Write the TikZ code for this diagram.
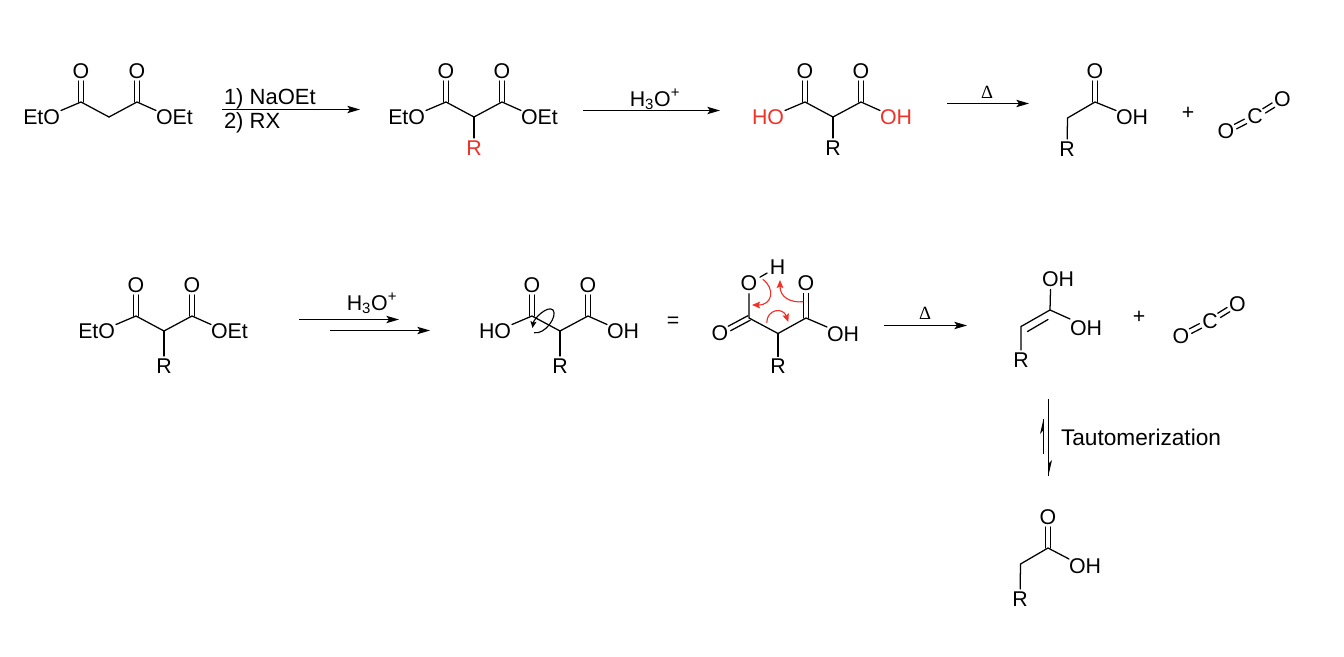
\documentclass[tikz,border=0pt]{standalone}
\usepackage{fontspec}
\setmainfont{Liberation Sans}
\newfontfamily\deltafont{Liberation Serif}
\usetikzlibrary{arrows.meta,calc}
\definecolor{chemred}{RGB}{240,50,40}
\tikzset{
  lab/.style={inner sep=0pt,outer sep=0pt,font=\fontsize{16}{18}\selectfont},
  atom/.style={lab,outer sep=2pt},
  bond/.style={line width=.95pt,line cap=round},
  rxn/.style={line width=.95pt,-{Stealth[length=9.5pt,width=5.5pt,inset=2pt]}},
  curly/.style={line width=.85pt,chemred,-{Stealth[length=6pt,width=5pt,inset=1pt]}},
  barb/.style={fill=black,draw=none}
}
% double bond between two named points
\newcommand{\dbl}[3][]{%
  \draw[bond,#1] ($(#2)!1.9pt!90:(#3)$) -- ($(#3)!1.9pt!-90:(#2)$);
  \draw[bond,#1] ($(#2)!1.9pt!-90:(#3)$) -- ($(#3)!1.9pt!90:(#2)$);}
% malonate skeleton: prefix, x, y, left text, right text, label colour
\newcommand{\diester}[6]{%
  \begin{scope}[shift={(#2,#3)},name prefix=#1-]
    \coordinate (ch) at (0,0);
    \coordinate (c1) at (-28,-15);
    \coordinate (c2) at (28,-15);
    \node[atom] (o1) at (-28,-46) {O};
    \node[atom] (o2) at (28,-46) {O};
    \node[lab,anchor=east,text=#6] (l) at (-49,0.5) {#4};
    \node[lab,anchor=west,text=#6] (r) at (47,0.5) {#5};
    \draw[bond] (ch) -- (c1) -- ([shift={(1,-7)}]l.east);
    \draw[bond] (ch) -- (c2) -- ([shift={(0,-7)}]r.west);
    \dbl[shorten >=7.5pt]{c1}{o1.center}
    \dbl[shorten >=7.5pt]{c2}{o2.center}
  \end{scope}}
% R-CH2-COOH: prefix, x, y of the carboxyl carbon, R offset, OH offset
\newcommand{\acid}[5]{%
  \begin{scope}[shift={(#2,#3)},name prefix=#1-]
    \coordinate (c) at (0,0);
    \coordinate (ch) at (-27.5,16);
    \node[atom] (o) at (0,-31) {O};
    \node[lab,anchor=west] (oh) at (21,#5) {OH};
    \node[atom] (r) at (-28,#4) {R};
    \draw[bond] (r) -- (ch) -- (c) -- ([shift={(0,-7)}]oh.west);
    \dbl[shorten >=7.5pt]{c}{o.center}
  \end{scope}}
% O=C=O: prefix, x, y of the carbon
\newcommand{\carbondioxide}[3]{%
  \begin{scope}[shift={(#2,#3)},name prefix=#1-]
    \node[lab] (c) at (0,0) {C};
    \node[lab] (a) at (-29,15) {O};
    \node[lab] (b) at (27.5,-17) {O};
    \dbl[shorten >=8pt,shorten <=8pt]{c.center}{a.center}
    \dbl[shorten >=8pt,shorten <=8pt]{c.center}{b.center}
  \end{scope}}
\begin{document}
\begin{tikzpicture}[x=.75pt,y=-.75pt]
\useasboundingbox (0,0) rectangle (1344,656);
\fill[white] (0,0) rectangle (1344,656);

% ---- top row ----
\diester{m1}{109}{117}{EtO}{OEt}{black}

\coordinate (a1s) at (222,109.5);
\coordinate (a1e) at (360,109.5);
\draw[rxn] (a1s) -- (a1e);
\node[lab,font=\fontsize{16.5}{18}\selectfont,anchor=west] (a1t) at (224,99) {1) NaOEt};
\node[lab,font=\fontsize{16.5}{18}\selectfont,anchor=west] (a1b) at (224,123) {2) RX};

\diester{m2}{474}{117}{EtO}{OEt}{black}
\node[atom,text=chemred] (m2-R) at (474,148) {R};
\draw[bond] (m2-ch) -- (m2-R);

\coordinate (a2s) at (583,110.5);
\coordinate (a2e) at (720,110.5);
\draw[rxn] (a2s) -- (a2e);
\node[lab] (a2t) at (655,99.5) {H\textsubscript{3}O\textsuperscript{+}};

\diester{m3}{833}{117}{HO}{OH}{chemred}
\node[atom] (m3-R) at (833,148) {R};
\draw[bond] (m3-ch) -- (m3-R);

\coordinate (a3s) at (947,103.5);
\coordinate (a3e) at (1029,103.5);
\draw[rxn] (a3s) -- (a3e);
\node[lab,font=\deltafont\fontsize{14}{16}\selectfont] (a3t) at (987,92) {Δ};

\acid{m4}{1095}{102}{47}{15.5}
\node[lab] (plus1) at (1188,113) {+};
\carbondioxide{co1}{1255}{116.5}

% ---- second row ----
\diester{m5}{164}{331}{EtO}{OEt}{black}
\node[atom] (m5-R) at (164,366) {R};
\draw[bond] (m5-ch) -- (m5-R);

\coordinate (a4s) at (299,319.5);
\coordinate (a4e) at (399,319.5);
\draw[rxn] (a4s) -- (a4e);
\coordinate (a5s) at (330,330.5);
\coordinate (a5e) at (430,330.5);
\draw[rxn] (a5s) -- (a5e);
\node[lab] (a4t) at (372,303.5) {H\textsubscript{3}O\textsuperscript{+}};

\diester{m6}{560}{331}{HO}{OH}{black}
\node[atom] (m6-R) at (560,366) {R};
\draw[bond] (m6-ch) -- (m6-R);
\draw[line width=.85pt,-{Stealth[length=5pt,width=4.5pt,inset=1pt]}]
  (534,332.7) .. controls (545,335) and (558,316) .. (553,310)
  .. controls (548,305) and (534,318) .. (532.5,328);

\node[lab] (eq) at (673,322) {=};

% cyclic conformer
\coordinate (c1) at (749,318);
\coordinate (ch) at (778,333.5);
\coordinate (c2) at (806,318);
\node[atom] (ol) at (720,333.5) {O};
\node[atom] (oa) at (749,283.5) {O};
\node[atom] (ha) at (777.5,267) {H};
\node[atom] (ot) at (806,283.5) {O};
\node[lab,anchor=west] (oh) at (827,334) {OH};
\node[atom] (rc) at (778,366.5) {R};
\draw[bond] (oa) -- (ha);
\draw[bond] (oa) -- (c1) -- (ch) -- (c2) -- ([shift={(0,-7)}]oh.west);
\draw[bond] (ch) -- (rc);
\dbl[shorten >=8pt]{c1}{ol.center}
\dbl[shorten >=7.5pt]{c2}{ot.center}
\draw[curly] (762.7,279.3) .. controls (775,288) and (773,305) .. (752,305);
\draw[curly] (766.7,322.7) .. controls (767,309) and (783,307) .. (788.3,322);
\draw[curly] (803.3,301.7) .. controls (790,303) and (780,297) .. (780,280);

\coordinate (a6s) at (884,325.5);
\coordinate (a6e) at (967,325.5);
\draw[rxn] (a6s) -- (a6e);
\node[lab,font=\deltafont\fontsize{14}{16}\selectfont] (a6t) at (925,313) {Δ};

% enediol
\coordinate (ec) at (1050,310);
\coordinate (ech) at (1021,326.5);
\coordinate (ei1) at (1027.5,331.5);
\coordinate (ei2) at (1048,319.5);
\node[lab,anchor=west] (eoh1) at (1042,279) {OH};
\node[lab,anchor=west] (eoh2) at (1070,328) {OH};
\node[atom] (er) at (1021,360) {R};
\draw[bond] (er) -- (ech) -- (ec) -- ([shift={(0,-9)}]eoh2.west);
\draw[bond] (ec) -- ([shift={(-7.5,3)}]eoh1.south);
\draw[bond] (ei1) -- (ei2);

\node[lab] (plus2) at (1139,317) {+};
\carbondioxide{co2}{1210}{321}

% tautomerisation arrows
\coordinate (t1s) at (1048.3,399);
\coordinate (t1e) at (1048.3,476);
\coordinate (t1b) at (1052,460);
\coordinate (t2s) at (1043.5,454);
\coordinate (t2e) at (1043.5,419);
\coordinate (t2b) at (1040,434);
\draw[line width=.95pt] (t1s) -- (t1e);
\fill[barb] (t1e) -- (t1b) -- (1048.3,464) -- cycle;
\draw[line width=.95pt] (t2s) -- (t2e);
\fill[barb] (t2e) -- (t2b) -- (1043.5,430) -- cycle;
\node[lab,font=\fontsize{17}{19}\selectfont,anchor=west] (taut) at (1061,437.5) {Tautomerization};

\acid{m8}{1048}{548}{51}{18}
\end{tikzpicture}
\end{document}
